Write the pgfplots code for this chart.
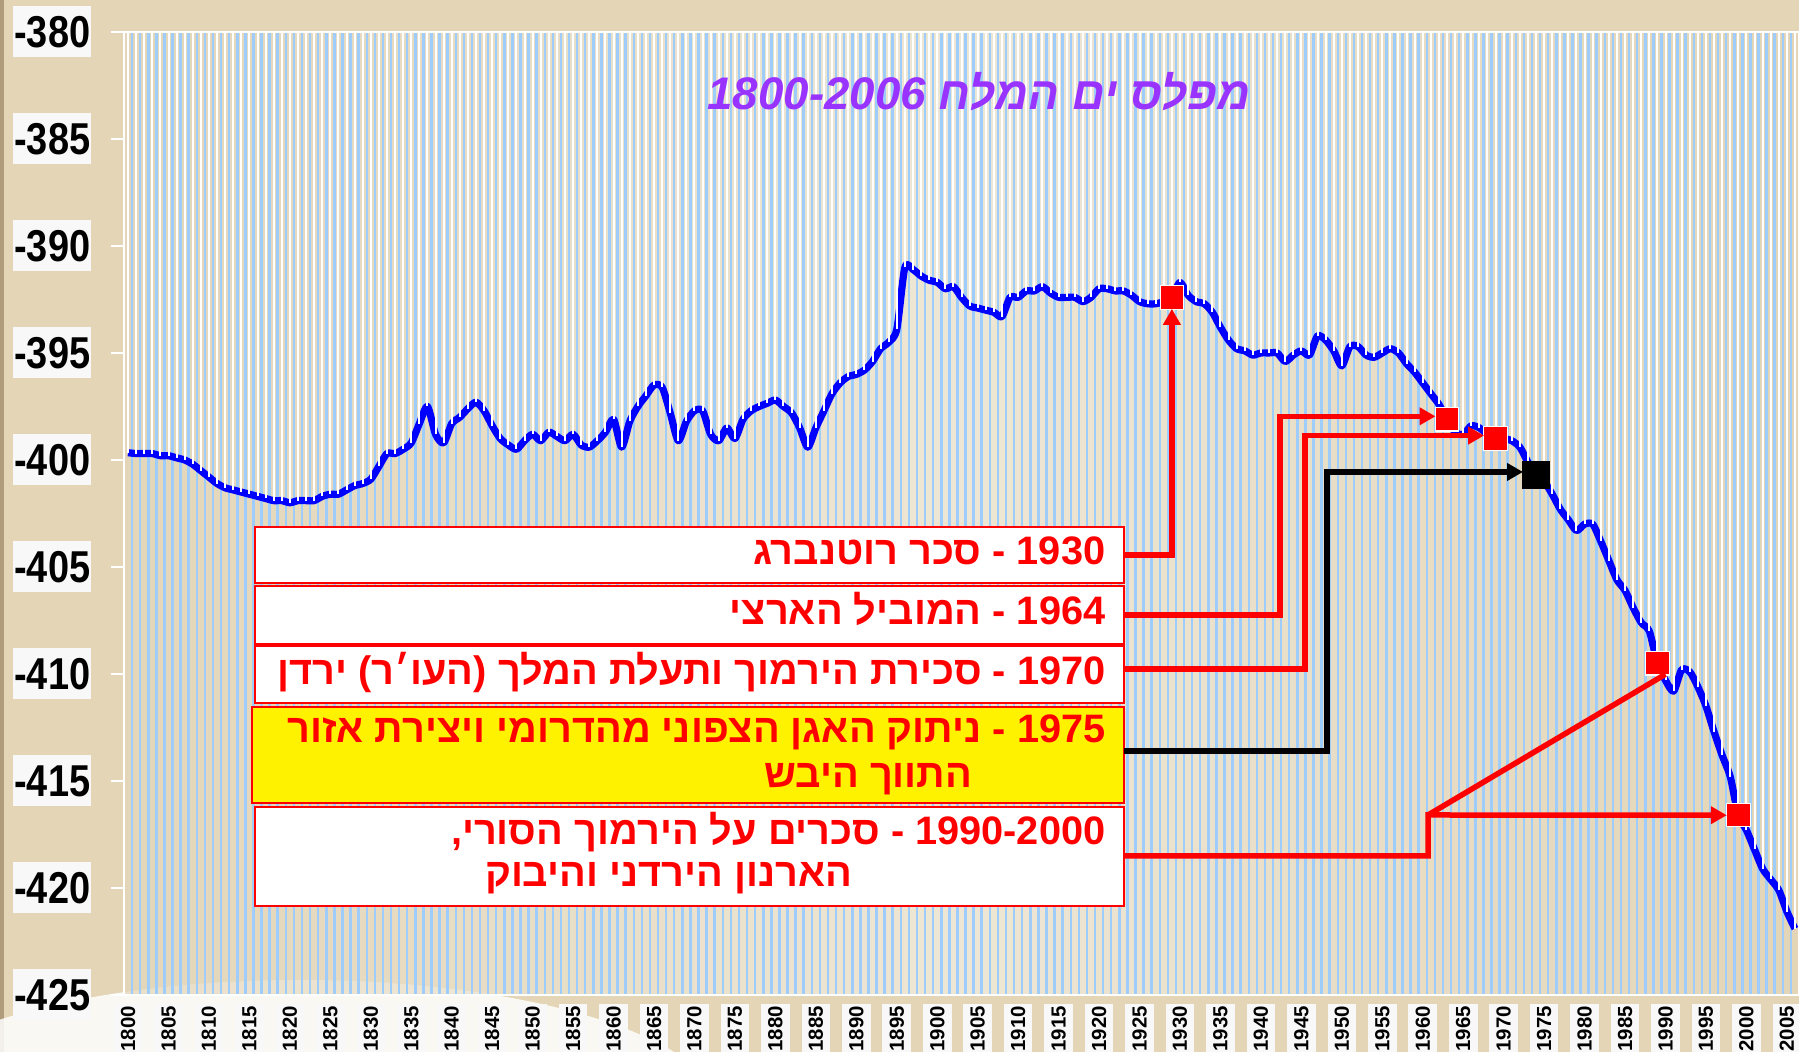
\documentclass[border=0pt]{standalone}
\usepackage{fontspec}
\usepackage{pgfplots}
\pgfplotsset{compat=1.18}
\usepackage{pgfplotstable}
\usetikzlibrary{arrows.meta}
\setmainfont{Liberation Sans}
\newfontfamily\hebfont[Script=Hebrew]{Liberation Sans}
\newfontfamily\narrowfont[FakeStretch=0.85]{Liberation Sans}
\TeXXeTstate=1
\definecolor{pagebg}{HTML}{E3D5B5}
\definecolor{plotL}{HTML}{E4D7BA}
\definecolor{plotM}{HTML}{F2EDE0}
\definecolor{plotR}{HTML}{E3D5B7}
\definecolor{gridblue}{HTML}{9FCDFB}
\definecolor{labelbg}{HTML}{F8F8F8}
\definecolor{titlepurple}{HTML}{9933FF}
\definecolor{edgebrown}{HTML}{B09C7C}

\pgfplotstableread{
year level
1800 -399.66
1801 -399.7
1802 -399.7
1803 -399.7
1804 -399.8
1805 -399.8
1806 -399.9
1807 -400.0
1808 -400.2
1809 -400.5
1810 -400.8
1811 -401.1
1812 -401.3
1813 -401.4
1814 -401.5
1815 -401.6
1816 -401.7
1817 -401.8
1818 -401.9
1819 -401.9
1820 -402.0
1821 -401.9
1822 -401.9
1823 -401.9
1824 -401.7
1825 -401.6
1826 -401.6
1827 -401.4
1828 -401.2
1829 -401.1
1830 -400.9
1831 -400.3
1832 -399.7
1833 -399.7
1834 -399.5
1835 -399.2
1836 -398.3
1837 -397.5
1838 -398.8
1839 -399.2
1840 -398.3
1841 -398.0
1842 -397.6
1843 -397.3
1844 -397.7
1845 -398.4
1846 -399.0
1847 -399.3
1848 -399.5
1849 -399.1
1850 -398.8
1851 -399.1
1852 -398.7
1853 -398.9
1854 -399.1
1855 -398.8
1856 -399.3
1857 -399.4
1858 -399.1
1859 -398.7
1860 -398.1
1861 -399.4
1862 -398.2
1863 -397.5
1864 -397.0
1865 -396.5
1866 -396.6
1867 -397.8
1868 -399.1
1869 -398.2
1870 -397.7
1871 -397.7
1872 -398.8
1873 -399.1
1874 -398.5
1875 -399.0
1876 -398.1
1877 -397.7
1878 -397.5
1879 -397.35
1880 -397.2
1881 -397.5
1882 -397.8
1883 -398.5
1884 -399.4
1885 -398.5
1886 -397.7
1887 -396.9
1888 -396.4
1889 -396.1
1890 -396.0
1891 -395.8
1892 -395.4
1893 -394.8
1894 -394.5
1895 -393.9
1896 -391.0
1897 -391.1
1898 -391.4
1899 -391.6
1900 -391.7
1901 -392.0
1902 -391.9
1903 -392.4
1904 -392.8
1905 -392.9
1906 -393.0
1907 -393.1
1908 -393.3
1909 -392.4
1910 -392.4
1911 -392.1
1912 -392.1
1913 -391.9
1914 -392.2
1915 -392.4
1916 -392.4
1917 -392.4
1918 -392.6
1919 -392.4
1920 -392.0
1921 -392.0
1922 -392.1
1923 -392.1
1924 -392.3
1925 -392.6
1926 -392.7
1927 -392.7
1928 -392.6
1929 -392.4
1930 -391.7
1931 -392.3
1932 -392.6
1933 -392.7
1934 -393.1
1935 -393.8
1936 -394.4
1937 -394.8
1938 -394.9
1939 -395.1
1940 -395.0
1941 -395.0
1942 -395.0
1943 -395.4
1944 -395.1
1945 -394.9
1946 -395.1
1947 -394.2
1948 -394.4
1949 -394.9
1950 -395.6
1951 -394.7
1952 -394.7
1953 -395.1
1954 -395.2
1955 -395.0
1956 -394.8
1957 -395.0
1958 -395.5
1959 -395.9
1960 -396.4
1961 -396.9
1962 -397.4
1963 -398.1
1964 -398.7
1965 -398.8
1966 -398.4
1967 -398.5
1968 -398.8
1969 -399.0
1970 -399.0
1971 -399.1
1972 -399.4
1973 -400.1
1974 -400.7
1975 -401.0
1976 -401.6
1977 -402.3
1978 -402.8
1979 -403.3
1980 -403.0
1981 -403.0
1982 -403.8
1983 -404.7
1984 -405.6
1985 -406.1
1986 -406.9
1987 -407.6
1988 -408.0
1989 -409.5
1990 -410.3
1991 -410.8
1992 -409.8
1993 -409.9
1994 -410.6
1995 -411.5
1996 -412.7
1997 -413.8
1998 -414.8
1999 -416.6
2000 -417.3
2001 -418.2
2002 -419.1
2003 -419.6
2004 -420.1
2005 -421.1
2006 -421.9
}\sealevel

\begin{document}
\begin{tikzpicture}
\useasboundingbox (0,0) rectangle (179.9mm,105.2mm);
\fill[pagebg] (0,0) rectangle (179.9mm,105.2mm);
\fill[edgebrown] (0,0) rectangle (0.4mm,105.2mm);
\fill[white,opacity=0.85] (30mm,-6mm) ellipse [x radius=42mm, y radius=13.2mm];

\begin{axis}[
  at={(12.4mm,5.7mm)}, anchor=south west,
  scale only axis, width=167.5mm, height=96.3mm,
  xmin=1799.5, xmax=2006.5, ymin=-425, ymax=-380,
  axis background/.style={left color=plotL, right color=plotR, middle color=plotM, fill opacity=0.75},
  axis line style={white, line width=0.25mm},
  xtick={1800,1805,...,2005},
  xticklabels={1800,1805,1810,1815,1820,1825,1830,1835,1840,1845,1850,1855,1860,1865,1870,1875,1880,1885,1890,1895,1900,1905,1910,1915,1920,1925,1930,1935,1940,1945,1950,1955,1960,1965,1970,1975,1980,1985,1990,1995,2000,2005},
  minor xtick={1799.5,1800.5,...,2006.5},
  xminorgrids=true,
  minor x grid style={draw=gridblue, line width=0.25mm},
  minor tick length=0pt,
  major tick length=1.3mm,
  tick align=outside,
  tick style={white, line width=0.25mm},
  major x tick style=transparent,
  ytick={-425,-420,...,-380},
  yticklabels={-425,-420,-415,-410,-405,-400,-395,-390,-385,-380},
  yticklabel style={font=\narrowfont\bfseries\fontsize{12.7}{14}\selectfont, text=black, fill=labelbg, inner sep=0pt, minimum width=7.8mm, minimum height=5.1mm, anchor=east, xshift=-1.9mm},
  xticklabel style={yshift=0.45mm, font=\bfseries\fontsize{5.8}{7}\selectfont, text=black, rotate=90, anchor=east, fill=labelbg, inner xsep=0.2mm, inner ysep=0pt, minimum height=2.86mm},
]
\addplot[color=blue, line width=0.72mm, smooth, tension=0.45, line join=round, mark=none] table[x=year,y=level]{\sealevel};
\addplot[ycomb, color=white, line width=0.2mm, mark=none] table[x=year,y=level]{\sealevel};
\addplot[only marks, mark=square*, mark size=1.17mm, mark options={fill=red, draw=white, line width=0.3pt}] coordinates {(1929,-392.4) (1963,-398.1) (1969,-399.0) (1989,-409.5) (1999,-416.6)};
\addplot[only marks, mark=square*, mark size=1.3mm, mark options={fill=black, draw=black}] coordinates {(1974,-400.7)};
\coordinate (m1) at (axis cs:1929,-392.4);
\coordinate (m2) at (axis cs:1963,-398.1);
\coordinate (m3) at (axis cs:1969,-399.0);
\coordinate (m4) at (axis cs:1974,-400.7);
\coordinate (m5) at (axis cs:1989,-409.5);
\coordinate (m6) at (axis cs:1999,-416.6);
\end{axis}

\begin{scope}[x=0.1mm,y=0.1mm]
% title
\node[text=titlepurple, font=\hebfont\bfseries\itshape\fontsize{13}{15}\selectfont] at (979,960) {\beginR מפלס ים המלח \beginL1800-2006\endL\endR};
% boxes
\draw[red, line width=0.25mm, fill=white] (255,469) rectangle (1124,525);
\draw[red, line width=0.25mm, fill=white] (255,408) rectangle (1124,466);
\draw[red, line width=0.25mm, fill=white] (255,349) rectangle (1124,406);
\draw[red, line width=0.25mm, fill=yellow] (252,249) rectangle (1124,345);
\draw[red, line width=0.25mm, fill=white] (255,146) rectangle (1124,245);
\begin{scope}[every node/.style={text=red, font=\hebfont\bfseries\fontsize{11.3}{13}\selectfont, inner sep=0pt, anchor=base east}]
\node at (1106,487) {\beginR\beginL1930\endL{} - סכר רוטנברג\endR};
\node at (1106,427) {\beginR\beginL1964\endL{} - המוביל הארצי\endR};
\node at (1106,367) {\beginR\beginL1970\endL{} - סכירת הירמוך ותעלת המלך (העו׳ר) ירדן\endR};
\node at (1106,309) {\beginR\beginL1975\endL{} - ניתוק האגן הצפוני מהדרומי ויצירת אזור\endR};
\node at (973,264) {\beginR התווך היבש\endR};
\node at (1106,207) {\beginR\beginL1990-2000\endL{} - סכרים על הירמוך הסורי,\endR};
\node at (853,165) {\beginR הארנון הירדני והיבוק\endR};
\end{scope}
% connectors
\begin{scope}[line width=0.55mm, arrows={-{Triangle[length=1.6mm,width=1.7mm]}}]
\draw[red] (1124,497) -| ([yshift=-1.15mm]m1);
\draw[red] (1124,437) -- (1280,437) |- ([xshift=-1.15mm,yshift=0.3mm]m2);
\draw[red] (1124,383) -- (1305,383) |- ([xshift=-1.15mm,yshift=0.3mm]m3);
\draw[black] (1124,301) -- (1327,301) |- ([xshift=-1.3mm,yshift=0.3mm]m4);
\draw[red] (1124,196) -- (1428,196) -- (1428,237) -- ([xshift=-1.15mm]m6);
\draw[red, arrows=-] (1428,237) -- ([xshift=0.8mm,yshift=-1.1mm]m5);
\end{scope}
\end{scope}
\end{tikzpicture}
\end{document}
